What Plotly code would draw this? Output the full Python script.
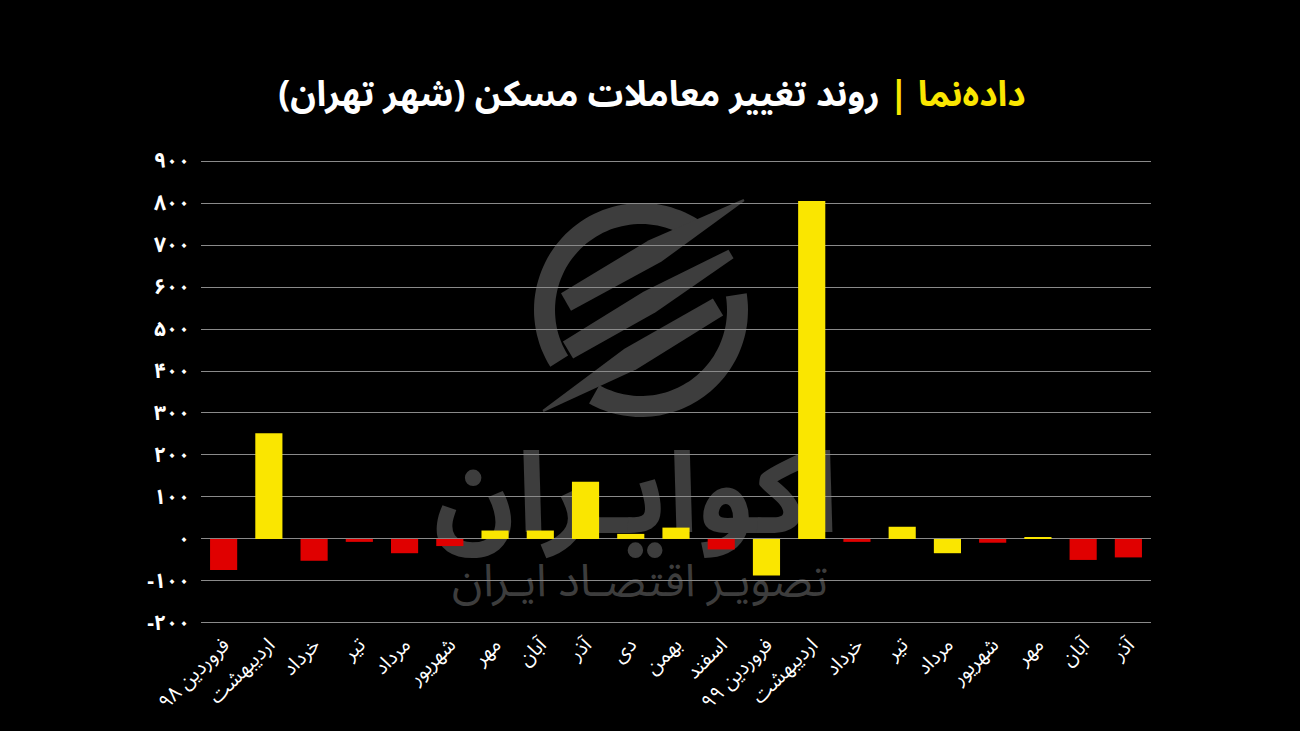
import numpy as np
import plotly.graph_objects as go

# ---------------- data ----------------
months = ["فروردین ۹۸", "اردیبهشت", "خرداد", "تیر", "مرداد", "شهریور", "مهر", "آبان", "آذر",
          "دی", "بهمن", "اسفند", "فروردین ۹۹", "اردیبهشت", "خرداد", "تیر", "مرداد", "شهریور",
          "مهر", "آبان", "آذر"]
values = [-74, 252, -52, -7, -34, -17, 20, 20, 136, 12, 27, -25, -87, 805, -7, 29, -34, -9, 3, -50, -44]
YELLOW = "#FAE600"
RED = "#E00000"
bar_colors = [RED, YELLOW, RED, RED, RED, RED, YELLOW, YELLOW, YELLOW, YELLOW, YELLOW, RED,
              YELLOW, YELLOW, RED, YELLOW, YELLOW, RED, YELLOW, RED, RED]
y_ticks = [-200, -100, 0, 100, 200, 300, 400, 500, 600, 700, 800, 900]
y_tick_labels = ["-۲۰۰", "-۱۰۰", "۰", "۱۰۰", "۲۰۰", "۳۰۰", "۴۰۰", "۵۰۰", "۶۰۰", "۷۰۰", "۸۰۰", "۹۰۰"]

FONT = "Noto Sans Arabic, DejaVu Sans, sans-serif"
W, H = 1300, 731
ML, MR, MT, MB = 201, 149, 159, 106
PW, PH = W - ML - MR, H - MT - MB

x_idx = list(range(len(months)))

fig = go.Figure(go.Bar(
    x=x_idx, y=values, marker=dict(color=bar_colors, line=dict(width=0)),
    width=0.6, hoverinfo="skip",
))

# ---------------- watermark (logo + text) ----------------
WM = "#3d3d3d"
cx_px, cy_px = 641, 310  # logo centre in page pixels
ax = (cx_px - ML) / PW
ay = (H - MB - cy_px) / PH


def to_path(pts):
    return "M " + " L ".join(f"{x:.1f},{y:.1f}" for x, y in pts) + " Z"


def ring(a0, a1, r_in, r_out):
    ang = np.radians(np.linspace(a0, a1, 60))
    outer = [(r_out * np.cos(a), r_out * np.sin(a)) for a in ang]
    inner = [(r_in * np.cos(a), r_in * np.sin(a)) for a in ang[::-1]]
    return outer + inner


def stripe(p0, p1, w0, wm, w1):
    x0, y0 = p0[0] - cx_px, cy_px - p0[1]
    x1, y1 = p1[0] - cx_px, cy_px - p1[1]
    a = np.array([x0, y0]); b = np.array([x1, y1])
    d = (b - a) / np.linalg.norm(b - a)
    n = np.array([-d[1], d[0]])
    m = (a + b) / 2
    pts = [a + n * w0 / 2, m + n * wm / 2, b + n * w1 / 2,
           b - n * w1 / 2, m - n * wm / 2, a - n * w0 / 2]
    return [tuple(p) for p in pts]


logo_parts = [
    ring(55, 212, 86, 107),
    ring(9, -119, 86, 107),
    stripe((566, 302), (744, 200), 20, 25, 2),
    stripe((568, 350), (731, 254), 20, 24, 10),
    stripe((543, 411), (718, 307), 2, 24, 20),
]
shapes = []
for pts in logo_parts:
    shapes.append(dict(
        type="path", xref="paper", yref="paper", xsizemode="pixel", ysizemode="pixel",
        xanchor=ax, yanchor=ay, path=to_path(pts), fillcolor=WM, line=dict(width=0),
        layer="below",
    ))


def text_shape(text, x_px, y_px, size):
    return dict(
        type="rect", xref="paper", yref="paper",
        x0=(x_px - 250 - ML) / PW, x1=(x_px + 250 - ML) / PW,
        y0=(H - MB - (y_px + 60)) / PH, y1=(H - MB - (y_px - 60)) / PH,
        line=dict(width=0), fillcolor="rgba(0,0,0,0)", layer="below",
        label=dict(text=text, font=dict(family=FONT, size=size, color=WM),
                   textposition="middle center"),
    )


shapes.append(text_shape("<b>اکوایـران</b>", 636, 538, 112))
shapes.append(text_shape("تصویـر اقتصـاد ایـران", 640, 598, 45))

title_text = ("<b><span style='color:#FAE600'>داده\u200cنما |</span> "
              "روند تغییر معاملات مسکن (شهر تهران)</b>")

fig.update_layout(
    width=W, height=H,
    paper_bgcolor="#000000", plot_bgcolor="rgba(0,0,0,0)",
    margin=dict(l=ML, r=MR, t=MT, b=MB, pad=0, autoexpand=False),
    showlegend=False,
    bargap=0.4,
    shapes=shapes,
    title=dict(text=title_text, x=0.4747, xanchor="center", xref="paper",
               y=1 - 94 / H, yanchor="middle", yref="container",
               font=dict(family=FONT, size=35.5, color="#FFFFFF")),
    font=dict(family=FONT, color="#FFFFFF"),
    xaxis=dict(
        tickmode="array", tickvals=x_idx, ticktext=months, tickangle=-45,
        tickfont=dict(family=FONT, size=20, color="#FFFFFF"),
        showgrid=False, zeroline=False, showline=False, ticks="",
        range=[-0.5, len(months) - 0.5], fixedrange=True, ticklabelstandoff=3,
        automargin=False,
    ),
    yaxis=dict(
        tickmode="array", tickvals=y_ticks, ticktext=y_tick_labels,
        tickfont=dict(family=FONT, size=21, color="#FFFFFF", weight="bold"),
        range=[-205, 905], showgrid=True, gridcolor="#8a8a8a", gridwidth=1,
        zeroline=True, zerolinecolor="#8a8a8a", zerolinewidth=1,
        showline=False, ticks="", ticklabelstandoff=10, fixedrange=True,
        automargin=False,
    ),
)

fig.write_html("out.html", config={"displayModeBar": False},
               post_script="document.body.style.margin='0';document.body.style.background='#000';")
